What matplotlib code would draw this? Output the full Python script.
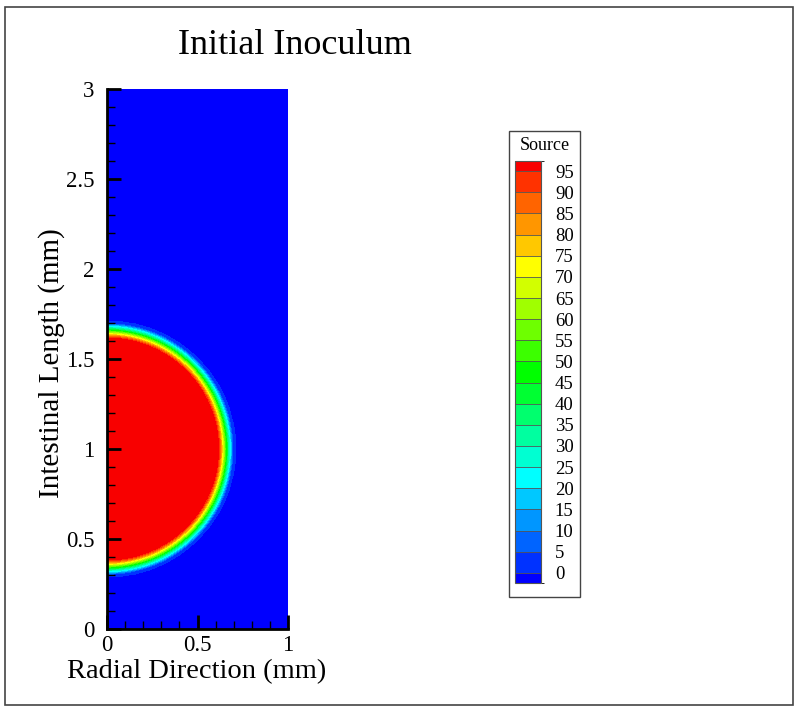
import numpy as np
import matplotlib
matplotlib.use("Agg")
import matplotlib.pyplot as plt
from matplotlib.colors import ListedColormap, BoundaryNorm
from matplotlib.cm import ScalarMappable
from matplotlib.patches import Rectangle


# =========================
# DATA
# =========================

# contour levels shown in the legend
levels = [0, 5, 10, 15, 20, 25, 30, 35, 40, 45,
          50, 55, 60, 65, 70, 75, 80, 85, 90, 95]

# band colours, lowest (below 0) to highest (above 95)
band_colors = [
    "#0000ff", "#0032ff", "#0064ff", "#0096ff", "#00c8ff",
    "#00ffff", "#00ffd2", "#00ffa0", "#00ff6e", "#00ff32",
    "#00ff00", "#3cff00", "#6eff00", "#a0ff00", "#d2ff00",
    "#ffff00", "#ffc800", "#ff9600", "#ff6400", "#ff3200",
    "#f80000",
]

# inoculum blob: centre on the axis, radial profile
blob_center = (0.0, 1.0)
profile_r = [0.0, 0.612, 0.630, 0.648, 0.664, 0.680, 0.695, 0.710]
profile_val = [100, 99, 82, 60, 40, 22, 5, 0]

x_ticks = [0, 0.5, 1]
x_labels = ["0", "0.5", "1"]
y_ticks = [0, 0.5, 1, 1.5, 2, 2.5, 3]
y_labels = ["0", "0.5", "1", "1.5", "2", "2.5", "3"]


# =========================
# FIELD
# =========================

xs = np.linspace(0, 1, 401)
ys = np.linspace(0, 3, 1201)
X, Y = np.meshgrid(xs, ys)
R = np.hypot(X - blob_center[0], Y - blob_center[1])
Z = np.interp(R, profile_r, profile_val)


# =========================
# PLOT
# =========================

plt.rcParams["font.family"] = ["Liberation Serif", "DejaVu Serif"]

fig = plt.figure(figsize=(8, 7.12), dpi=100)

# outer frame
fig.patches.append(Rectangle(
    (5 / 800, 7 / 712), 788 / 800, 698 / 712,
    transform=fig.transFigure, fill=False,
    edgecolor="#444444", linewidth=1.2
))

ax = fig.add_axes([107 / 800, 83 / 712, 181 / 800, 540 / 712])

cmap = ListedColormap(band_colors)
bounds = [-5] + levels + [105]

ax.contourf(X, Y, Z, levels=bounds, colors=band_colors)

ax.set_xlim(0, 1)
ax.set_ylim(0, 3)

ax.set_xticks(x_ticks)
ax.set_xticklabels(x_labels)
ax.set_yticks(y_ticks)
ax.set_yticklabels(y_labels)
ax.set_xticks(np.arange(0, 1.01, 0.1), minor=True)
ax.set_yticks(np.arange(0, 3.01, 0.1), minor=True)

ax.tick_params(which="major", direction="in", length=10, width=2,
               labelsize=16.5, color="black")
ax.tick_params(axis="x", which="major", pad=4)
ax.tick_params(axis="y", which="major", pad=9)
ax.tick_params(which="minor", direction="in", length=6, width=1,
               color="black")

ax.spines["top"].set_visible(False)
ax.spines["right"].set_visible(False)
ax.spines["left"].set_linewidth(2)
ax.spines["bottom"].set_linewidth(2)

fig.text(295 / 800, 1 - 45 / 712, "Initial Inoculum",
         ha="center", va="center", fontsize=26)
fig.text(197 / 800, 1 - 672 / 712, "Radial Direction (mm)",
         ha="center", va="center", fontsize=20.5)
fig.text(52 / 800, 1 - 363 / 712, "Intestinal Length (mm)",
         ha="center", va="center", fontsize=21, rotation=90)

# legend box
fig.patches.append(Rectangle(
    (509 / 800, 1 - 597 / 712), 71 / 800, 466 / 712,
    transform=fig.transFigure, fill=False,
    edgecolor="#444444", linewidth=1
))
fig.text(545 / 800, 1 - 145 / 712, "Source",
         ha="center", va="center", fontsize=13)

cax = fig.add_axes([515 / 800, 1 - 583 / 712, 26 / 800, 422 / 712])
cb_bounds = [-2.4] + levels + [97.4]
sm = ScalarMappable(norm=BoundaryNorm(cb_bounds, cmap.N), cmap=cmap)
cb = fig.colorbar(sm, cax=cax, boundaries=cb_bounds,
                  ticks=levels, spacing="proportional",
                  drawedges=True)
cb.outline.set_edgecolor("#555555")
cb.outline.set_linewidth(0.8)
cb.dividers.set_color("#555555")
cb.dividers.set_linewidth(0.6)
cax.tick_params(length=0, labelsize=13.5, pad=10)

fig.savefig("out.png", dpi=100)
